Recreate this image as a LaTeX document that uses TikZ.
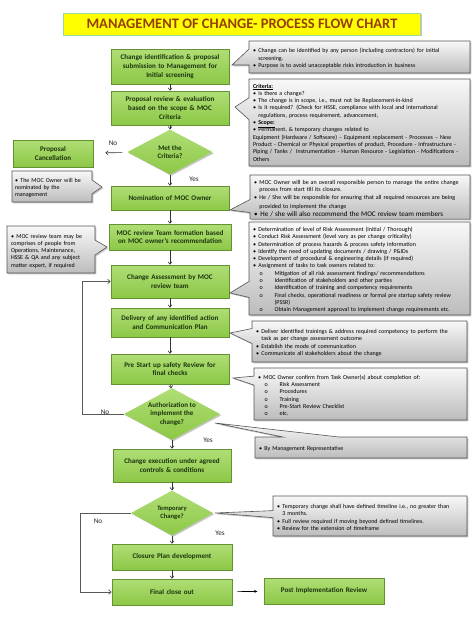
\documentclass[tikz,border=0pt]{standalone}
\usepackage{fontspec}
\setmainfont{Carlito}
\usepackage{tikz}
\usetikzlibrary{shapes.geometric,shapes.callouts,shadows,arrows.meta}

\definecolor{mocGreen}{RGB}{140,200,70}
\definecolor{mocGreenTop}{RGB}{176,222,118}
\definecolor{mocGreenEdge}{RGB}{100,146,50}
\definecolor{mocText}{RGB}{28,52,14}
\definecolor{mocTitle}{RGB}{150,62,10}
\definecolor{mocYellow}{RGB}{255,255,0}
\definecolor{mocNoteTop}{RGB}{248,248,248}
\definecolor{mocNoteBot}{RGB}{188,188,188}
\definecolor{mocNoteEdge}{RGB}{85,85,85}

\hyphenpenalty=10000
\exhyphenpenalty=10000
\newcommand\bul{\par\noindent\hangindent=0.9em\hangafter=1\makebox[0.9em][l]{\textbullet}}
\newcommand\ob{\par\noindent\hangindent=3.6em\hangafter=1\hspace*{1.1em}\makebox[2.5em][l]{o}}

\begin{document}
\begin{tikzpicture}[x=1pt,y=-1pt,
  shade/.style={drop shadow={shadow xshift=1.3pt,shadow yshift=-1.3pt,opacity=0.45}},
  stepbox/.style={rectangle,draw=mocGreenEdge,line width=0.6pt,top color=mocGreenTop,bottom color=mocGreen,shade,
    text=mocText,font=\bfseries\fontsize{7.1}{8.8}\selectfont,align=center,text width=114pt,inner xsep=2pt,inner ysep=1pt},
  decision/.style={diamond,top color=mocGreenTop,bottom color=mocGreen,shade,
    text=mocText,font=\bfseries\fontsize{7}{8.4}\selectfont,align=center,inner sep=0pt},
  note/.style={rectangle callout,draw=mocNoteEdge,line width=0.6pt,top color=mocNoteTop,bottom color=mocNoteBot,shade,
    text=black,font=\fontsize{6}{7.3}\selectfont,align=left,inner xsep=4pt,inner ysep=2pt},
  flow/.style={-{Straight Barb[length=2.4pt,width=4pt]},line width=0.6pt,draw=black!80},
  back/.style={-{Straight Barb[length=2.6pt,width=4.5pt]},line width=0.7pt,draw=black!65},
  ahead/.style={-{Latex[length=3.2pt,width=3pt]},line width=0.6pt,draw=black},
  lbl/.style={font=\fontsize{7.2}{8}\selectfont,text=black!85,inner sep=0pt}]
\def\cx{170}
\def\cy{172}
\useasboundingbox[fill=white] (0,0) rectangle (474,632);

% title
\node[rectangle,fill=mocYellow,draw=black!35!green!40,line width=1pt,shade,minimum width=357pt,minimum height=22pt,
  text=mocTitle,font=\bfseries\fontsize{14.5}{16}\selectfont] (title) at (242,24) {MANAGEMENT OF CHANGE- PROCESS FLOW CHART};

% main column
\node[stepbox,minimum height=35pt] (ident) at (\cx,66.5) {Change identification \& proposal\\submission to Management for\\Initial screening};
\node[stepbox,minimum height=34pt] (review) at (\cx,108) {Proposal review \& evaluation\\based on the scope \& MOC\\Criteria};
\node[decision,minimum width=85pt,minimum height=45pt,aspect=1.9] (met) at (\cx,152) {Met the\\Criteria?};
\node[stepbox,text width=76pt,minimum height=27pt] (cancel) at (53,153.5) {Proposal\\Cancellation};
\node[stepbox,minimum height=24pt] (owner) at (\cx,198) {Nomination of MOC Owner};
\node[stepbox,text width=118pt,minimum height=26pt] (team) at (\cx,237) {MOC review Team formation based\\on MOC owner’s recommendation};
\node[stepbox,minimum height=33pt] (assess) at (\cx,281.5) {Change Assessment by MOC\\review team};
\node[stepbox,minimum height=29pt] (deliver) at (\cx,322.5) {Delivery of any identified action\\and Communication Plan};
\node[stepbox,minimum height=30pt] (pssr) at (\cx,369) {Pre Start up safety Review for\\final checks};
\node[decision,minimum width=96pt,minimum height=52pt,aspect=1.85] (auth) at (\cy,414) {Authorization to\\implement the\\change?};
\node[stepbox,minimum height=33pt] (exec) at (\cy,465.5) {Change execution under agreed\\controls \& conditions};
\node[decision,minimum width=82pt,minimum height=45pt,aspect=1.8,font=\bfseries\fontsize{6.6}{8}\selectfont] (temp) at (\cy,513) {Temporary\\Change?};
\node[stepbox,text width=116pt,minimum height=26pt] (closure) at (\cy,557) {Closure Plan development};
\node[stepbox,text width=116pt,minimum height=26pt] (final) at (\cy,592) {Final close out};
\node[stepbox,text width=116pt,minimum height=26pt] (post) at (324,591) {Post Implementation Review};

% notes
\node[note,text width=213pt,minimum height=32pt,callout pointer width=16pt,callout absolute pointer={(232,65)}] (nIdent) at (359.5,57)
  {\bul Change can be identified by any person (including contractors) for initial\newline screening.
   \bul Purpose is to avoid unacceptable risks introduction in business};
\node[note,text width=213pt,minimum height=87pt,callout pointer width=22pt,callout absolute pointer={(235,107)}] (nReview) at (359.5,122.5)
  {\noindent\underline{\textbf{Criteria:}}
   \bul Is there a change?
   \bul The change is in scope, i.e., must not be Replacement-in-kind
   \bul Is it required? (Check for HSSE, compliance with local and international\newline regulations, process requirement, advancement,
   \bul \underline{\textbf{Scope:}}
   \bul Permanent, \& temporary changes related to\newline Equipment (Hardware / Software) – Equipment replacement - Processes – New\newline Product - Chemical or Physical properties of product, Procedure - Infrastructure -\newline Piping / Tanks /\ \ Instrumentation - Human Resource - Legislation - Modifications -\newline Others};
\node[note,text width=74pt,minimum height=31pt,inner xsep=3pt,callout pointer width=14pt,callout absolute pointer={(102,187)}] (nOwnerL) at (52,186.5)
  {\bul The MOC Owner will be\newline nominated by the\newline management};
\node[note,text width=80pt,minimum height=47pt,callout pointer width=15pt,callout absolute pointer={(107,247)}] (nTeam) at (51,249.5)
  {\bul MOC review team may be\newline comprises of people from\newline Operations, Maintenance,\newline HSSE \& QA and any subject\newline matter expert, if required};
\node[note,text width=212pt,minimum height=42pt,callout pointer width=13pt,callout absolute pointer={(230,210)}] (nOwnerR) at (360,197)
  {\bul MOC Owner will be an overall responsible person to manage the entire change process from start till its closure.
   \bul He / She will be responsible for ensuring that all required resources are being provided to implement the change
   {\fontsize{7.1}{8.4}\selectfont\bul He / she will also recommend the MOC review team members\par}};
\node[note,text width=213pt,minimum height=93pt,callout pointer width=16pt,callout absolute pointer={(230,293)}] (nAssess) at (359.5,268.5)
  {\bul Determination of level of Risk Assessment (Initial / Thorough)
   \bul Conduct Risk Assessment (level vary as per change criticality)
   \bul Determination of process hazards \& process safety information
   \bul Identify the need of updating documents / drawing / P\&IDs
   \bul Development of procedural \& engineering details (if required)
   \bul Assignment of tasks to task owners related to:
   \ob Mitigation of all risk assessment findings/ recommendations
   \ob Identification of stakeholders and other parties
   \ob Identification of training and competency requirements
   \ob Final checks, operational readiness or formal pre startup safety review\newline (PSSR)
   \ob Obtain Management approval to implement change requirements etc.};
\node[note,text width=207pt,minimum height=41pt,callout pointer width=15pt,callout absolute pointer={(230,333)}] (nDeliver) at (359.5,341.5)
  {\bul Deliver identified trainings \& address required competency to perform the\newline task as per change assessment outcome
   \bul Establish the mode of communication
   \bul Communicate all stakeholders about the change};
\node[note,text width=205pt,minimum height=52pt,callout pointer width=9pt,callout absolute pointer={(233,378)}] (nPssr) at (360.5,394)
  {\bul MOC Owner confirm from Task Owner(s) about completion of:
   \ob Risk Assessment
   \ob Procedures
   \ob Training
   \ob Pre-Start Review Checklist
   \ob etc.};
\node[note,text width=204pt,minimum height=21pt,callout pointer width=56pt,callout absolute pointer={(215,423)}] (nAuth) at (361,447.5)
  {\bul By Management Representative};
\node[note,text width=186pt,minimum height=40pt,callout pointer width=7pt,callout absolute pointer={(215,513)}] (nTemp) at (370,516)
  {\bul Temporary change shall have defined timeline i.e., no greater than\newline 3 months.
   \bul Full review required if moving beyond defined timelines.
   \bul Review for the extension of timeframe};

% connectors
\draw[flow] (ident) -- (review);
\draw[flow] (review) -- (met);
\draw[flow] (met) -- (owner);
\draw[flow] (owner) -- (team);
\draw[flow] (team) -- (assess);
\draw[flow] (assess) -- (deliver);
\draw[flow] (deliver) -- (pssr);
\draw[flow] (pssr) -- (auth);
\draw[flow] (auth) -- (exec);
\draw[flow] (exec) -- (temp);
\draw[flow] (temp) -- (closure);
\draw[flow] (closure) -- (final);
\draw[flow,shorten <=6pt,shorten >=12pt] (met) -- (cancel);
\draw[ahead,shorten <=5pt,shorten >=6pt] (final) -- (post);

\coordinate (authNo) at (82,414);
\coordinate (tempNo) at (80,513);
\draw[back] (auth.west) -- (authNo) |- (assess.west);
\draw[back] (temp.west) -- (tempNo) |- (final.west);

% labels
\node[lbl] (noMet) at (113,143) {No};
\node[lbl] (yesMet) at (194,179) {Yes};
\node[lbl] (noAuth) at (105,412) {No};
\node[lbl] (yesAuth) at (208,440) {Yes};
\node[lbl] (noTemp) at (98,521) {No};
\node[lbl] (yesTemp) at (220,533) {Yes};
\end{tikzpicture}
\end{document}
